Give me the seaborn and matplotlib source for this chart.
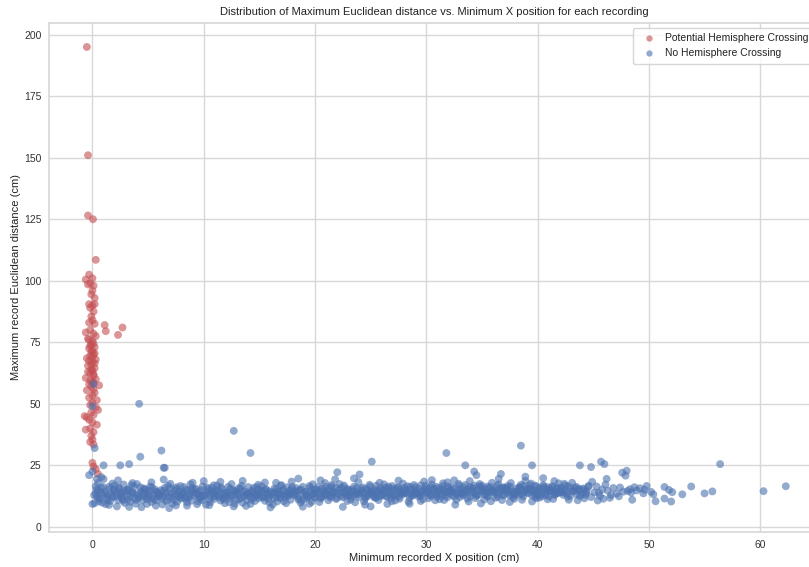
import matplotlib
matplotlib.use("Agg")
import matplotlib.pyplot as plt
import pandas as pd
import seaborn as sns

# Recordings flagged as potentially crossing the hemisphere midline: (min X, max distance)
crossing_pts = [
    (-0.5, 195.0), (-0.4, 151.0), (-0.4, 126.5), (0.05, 125.0), (0.3, 108.5),
    (-0.6, 100.5), (-0.3, 102.5), (0.0, 101.0), (-0.2, 99.0), (0.1, 98.0),
    (-0.4, 98.5), (0.0, 96.0), (-0.1, 94.5), (0.2, 93.0), (-0.3, 90.5),
    (0.0, 90.0), (0.2, 90.5), (-0.2, 89.0), (0.1, 87.5), (-0.1, 85.5),
    (0.0, 84.0), (-0.3, 83.0), (0.2, 82.5), (1.1, 82.0), (1.2, 79.5),
    (2.3, 78.0), (2.7, 81.0), (-0.6, 79.0), (-0.2, 80.0), (0.1, 78.5),
    (0.3, 77.5), (-0.4, 76.5), (0.0, 75.5), (-0.1, 74.0), (0.2, 73.0),
    (-0.3, 72.5), (0.0, 71.5), (0.1, 70.0), (-0.2, 69.5), (-0.5, 68.5),
    (0.3, 68.0), (0.0, 67.0), (-0.1, 66.0), (-0.4, 65.5), (0.2, 64.5),
    (0.0, 63.5), (-0.2, 62.5), (0.1, 61.5), (-0.6, 60.5), (0.3, 60.0),
    (0.0, 59.0), (-0.3, 58.0), (0.6, 57.5), (-0.1, 57.0), (0.1, 56.0),
    (-0.5, 55.5), (0.2, 54.5), (0.0, 53.5), (-0.3, 52.5), (0.4, 51.5),
    (0.0, 50.5), (-0.2, 49.5), (0.3, 48.5), (-0.7, 45.0), (-0.5, 44.5),
    (0.5, 47.5), (-0.1, 46.5), (0.1, 45.5), (-0.3, 43.5), (0.4, 41.5),
    (0.0, 42.5), (-0.2, 40.0), (-0.6, 39.5), (0.1, 38.5), (-0.1, 37.0),
    (0.0, 35.5), (-0.2, 34.5), (0.1, 33.5), (0.0, 26.0), (0.1, 24.5),
    (0.3, 23.5), (0.5, 21.5), (-0.4, 63.0), (0.2, 66.5), (-0.1, 71.0),
    (0.1, 74.5), (-0.3, 76.0), (0.2, 70.5), (-0.2, 59.5), (0.1, 58.5),
    (-0.3, 67.5), (0.0, 69.0), (-0.2, 73.5), (0.1, 62.0), (-0.1, 64.0),
]

# Recordings that stay within one hemisphere: (min X, max distance)
no_crossing_pts = [
    (0.1, 58.0), (0.0, 49.0), (0.2, 32.0), (-0.3, 21.0), (0.0, 22.5), (0.4, 19.5),
    (0.8, 20.2), (0.0, 9.3),
    (0.3, 16.5), (0.4, 12.2), (0.5, 14.8), (0.6, 10.3), (0.3, 13.6), (0.8, 15.9),
    (0.7, 11.4), (0.9, 13.1), (0.2, 9.6), (0.5, 17.8), (0.9, 9.8),
    (1.1, 14.2), (1.3, 11.8), (1.5, 16.3), (1.2, 9.2), (1.7, 13.4), (1.9, 15.1),
    (1.4, 12.7), (1.6, 10.5), (1.8, 17.6), (1.0, 19.4), (1.5, 8.9), (1.9, 12.3),
    (2.1, 13.8), (2.3, 10.9), (2.4, 15.7), (2.6, 12.1), (2.8, 17.2), (2.2, 8.3),
    (2.5, 14.4), (2.7, 11.3), (2.9, 9.7), (2.0, 16.8), (2.6, 13.2), (2.3, 18.9),
    (3.1, 12.6), (3.2, 15.3), (3.4, 10.2), (3.6, 14.1), (3.8, 11.7), (3.3, 8.1),
    (3.5, 16.9), (3.7, 13.5), (3.9, 9.4), (3.0, 14.8), (3.6, 17.8), (3.2, 11.1),
    (4.1, 13.3), (4.3, 16.1), (4.5, 10.8), (4.2, 12.4), (4.7, 14.9), (4.9, 9.3),
    (4.4, 8.0), (4.6, 15.6), (4.8, 12.0), (4.0, 17.4), (4.5, 13.9), (4.9, 11.2),
    (5.1, 14.6), (5.3, 10.1), (5.5, 12.9), (5.2, 16.4), (5.7, 8.6), (5.9, 13.7),
    (5.4, 11.5), (5.6, 15.2), (5.8, 10.7), (5.0, 12.3), (5.3, 18.1), (5.8, 14.3),
    (6.1, 12.8), (6.3, 9.1), (6.5, 15.8), (6.2, 11.6), (6.7, 13.9), (6.9, 7.6),
    (6.4, 14.7), (6.6, 10.4), (6.8, 16.7), (6.0, 13.1), (6.4, 19.2), (6.9, 12.2),
    (7.1, 13.6), (7.3, 11.0), (7.5, 15.4), (7.2, 9.5), (7.7, 12.5), (7.9, 16.6),
    (7.4, 13.0), (7.6, 10.2), (7.8, 14.4), (7.0, 17.5), (7.5, 8.7), (7.9, 11.9),
    (8.1, 14.0), (8.3, 12.1), (8.5, 9.9), (8.2, 16.2), (8.7, 13.4), (8.9, 10.6),
    (8.4, 15.1), (8.6, 11.8), (8.8, 17.3), (8.0, 12.9), (8.5, 8.6), (8.9, 14.8),
    (9.1, 12.7), (9.3, 15.5), (9.5, 10.3), (9.2, 13.8), (9.7, 11.4), (9.9, 16.4),
    (9.4, 9.2), (9.6, 14.2), (9.8, 12.3), (9.0, 17.9), (9.5, 13.3), (9.9, 10.8),
    (10.1, 13.1), (10.3, 16.0), (10.5, 11.2), (10.2, 9.0), (10.7, 14.6), (10.9, 12.4),
    (10.4, 15.3), (10.6, 10.1), (10.8, 13.7), (10.0, 18.6), (10.5, 8.8), (10.9, 16.9),
    (11.1, 12.5), (11.3, 14.9), (11.5, 10.7), (11.2, 16.8), (11.7, 13.2), (11.9, 9.6),
    (11.4, 12.0), (11.6, 15.7), (11.8, 11.1), (11.0, 14.3), (11.5, 18.3), (11.9, 13.6),
    (12.1, 14.1), (12.3, 10.0), (12.5, 12.8), (12.2, 16.3), (12.7, 8.3), (12.9, 13.5),
    (12.4, 11.5), (12.6, 15.0), (12.8, 9.4), (12.0, 12.2), (12.5, 17.4), (12.9, 14.7),
    (13.1, 12.9), (13.3, 15.6), (13.5, 9.8), (13.2, 11.3), (13.7, 14.5), (13.9, 10.9),
    (13.4, 16.7), (13.6, 12.6), (13.8, 8.5), (13.0, 14.0), (13.5, 18.7), (13.9, 13.3),
    (14.1, 13.7), (14.3, 11.0), (14.5, 15.9), (14.2, 9.3), (14.7, 12.7), (14.9, 17.1),
    (14.4, 14.2), (14.6, 10.5), (14.8, 13.1), (14.0, 16.2), (14.5, 11.9), (14.9, 15.0),
    (15.1, 12.3), (15.3, 14.8), (15.5, 10.6), (15.2, 16.5), (15.7, 13.0), (15.9, 9.9),
    (15.4, 12.1), (15.6, 15.3), (15.8, 11.4), (15.0, 13.8), (15.5, 18.0), (15.9, 14.4),
    (16.1, 13.9), (16.3, 11.7), (16.5, 15.2), (16.2, 9.1), (16.7, 12.9), (16.9, 16.8),
    (16.4, 14.1), (16.6, 10.3), (16.8, 13.5), (16.0, 7.9), (16.5, 17.9), (16.9, 11.6),
    (17.1, 14.5), (17.3, 12.2), (17.5, 16.1), (17.2, 10.4), (17.7, 13.6), (17.9, 15.4),
    (17.4, 9.6), (17.6, 12.8), (17.8, 11.0), (17.0, 16.9), (17.5, 14.0), (17.9, 18.4),
    (18.1, 13.2), (18.3, 15.8), (18.5, 11.1), (18.2, 14.3), (18.7, 9.8), (18.9, 16.3),
    (18.4, 12.6), (18.6, 14.9), (18.8, 10.7), (18.0, 13.7), (18.5, 19.6), (18.9, 8.2),
    (19.1, 14.2), (19.3, 11.8), (19.5, 16.6), (19.2, 13.0), (19.7, 10.2), (19.9, 15.1),
    (19.4, 12.4), (19.6, 14.6), (19.8, 17.3), (19.0, 11.3), (19.5, 9.4), (19.9, 13.5),
    (20.1, 13.6), (20.3, 16.2), (20.5, 11.5), (20.2, 14.8), (20.7, 12.3), (20.9, 17.8),
    (20.4, 10.1), (20.6, 15.5), (20.8, 13.1), (20.0, 12.0), (20.5, 18.9), (20.9, 14.3),
    (21.1, 14.9), (21.3, 12.5), (21.5, 17.0), (21.2, 10.8), (21.7, 13.8), (21.9, 15.9),
    (21.4, 11.9), (21.6, 14.4), (21.8, 19.3), (21.0, 13.2), (21.5, 16.4), (21.9, 11.3),
    (22.1, 13.4), (22.3, 15.7), (22.5, 12.0), (22.2, 17.4), (22.7, 14.1), (22.9, 10.5),
    (22.4, 13.9), (22.6, 16.8), (22.8, 12.7), (22.0, 22.2), (22.5, 8.1), (22.9, 15.2),
    (23.1, 14.6), (23.3, 12.2), (23.5, 16.3), (23.2, 11.0), (23.7, 13.5), (23.9, 18.2),
    (23.4, 15.1), (23.6, 10.0), (23.8, 14.0), (23.0, 12.8), (23.5, 19.7), (23.9, 13.1),
    (24.1, 13.9), (24.3, 16.0), (24.5, 11.6), (24.2, 14.7), (24.7, 12.4), (24.9, 17.1),
    (24.4, 10.3), (24.6, 15.4), (24.8, 13.3), (24.0, 21.3), (24.5, 9.0), (24.9, 14.2),
    (25.1, 14.4), (25.3, 12.1), (25.5, 16.7), (25.2, 13.0), (25.7, 10.9), (25.9, 15.6),
    (25.4, 11.8), (25.6, 14.8), (25.8, 17.9), (25.0, 8.3), (25.5, 13.7), (25.9, 12.6),
    (26.1, 13.3), (26.3, 15.9), (26.5, 12.2), (26.2, 17.3), (26.7, 14.3), (26.9, 10.4),
    (26.4, 13.9), (26.6, 16.4), (26.8, 11.7), (26.0, 14.9), (26.5, 9.3), (26.9, 15.5),
    (27.1, 14.8), (27.3, 12.6), (27.5, 16.0), (27.2, 10.7), (27.7, 13.6), (27.9, 17.6),
    (27.4, 15.2), (27.6, 11.4), (27.8, 14.1), (27.0, 12.9), (27.5, 18.8), (27.9, 13.2),
    (28.1, 13.8), (28.3, 16.5), (28.5, 11.9), (28.2, 14.6), (28.7, 12.8), (28.9, 17.0),
    (28.4, 10.2), (28.6, 15.3), (28.8, 13.4), (28.0, 15.8), (28.5, 9.4), (28.9, 14.9),
    (29.1, 14.5), (29.3, 12.3), (29.5, 16.9), (29.2, 13.5), (29.7, 11.2), (29.9, 15.7),
    (29.4, 12.7), (29.6, 14.2), (29.8, 18.4), (29.0, 16.1), (29.5, 10.5), (29.9, 13.9),
    (30.1, 15.1), (30.3, 13.0), (30.5, 17.2), (30.2, 11.6), (30.7, 14.4), (30.9, 16.3),
    (30.4, 12.5), (30.6, 15.6), (30.8, 10.8), (30.0, 14.0), (30.5, 19.0), (30.9, 13.4),
    (31.1, 14.7), (31.3, 12.4), (31.5, 16.6), (31.2, 11.2), (31.7, 13.9), (31.9, 18.1),
    (31.4, 15.3), (31.6, 10.9), (31.8, 14.3), (31.0, 13.1), (31.5, 17.7), (31.9, 12.0),
    (32.1, 13.6), (32.3, 16.1), (32.5, 12.3), (32.2, 15.0), (32.7, 11.0), (32.9, 17.5),
    (32.4, 14.2), (32.6, 9.0), (32.8, 13.3), (32.0, 15.7), (32.5, 18.9), (32.9, 14.6),
    (33.1, 15.4), (33.3, 12.8), (33.5, 17.0), (33.2, 14.0), (33.7, 11.5), (33.9, 16.2),
    (33.4, 13.2), (33.6, 15.0), (33.8, 10.3), (33.0, 12.1), (33.5, 14.5), (33.9, 18.6),
    (34.1, 14.3), (34.3, 16.8), (34.5, 12.6), (34.2, 15.4), (34.7, 13.1), (34.9, 9.5),
    (34.4, 11.7), (34.6, 14.9), (34.8, 17.4), (34.0, 13.8), (34.5, 21.0), (34.9, 15.9),
    (35.1, 14.9), (35.3, 12.9), (35.5, 16.4), (35.2, 11.1), (35.7, 14.1), (35.9, 17.9),
    (35.4, 13.6), (35.6, 15.6), (35.8, 10.4), (35.0, 16.7), (35.5, 12.3), (35.9, 14.6),
    (36.1, 15.2), (36.3, 13.4), (36.5, 17.3), (36.2, 11.8), (36.7, 14.7), (36.9, 16.0),
    (36.4, 12.2), (36.6, 15.8), (36.8, 10.9), (36.0, 14.2), (36.5, 19.5), (36.9, 13.0),
    (37.1, 14.4), (37.3, 16.6), (37.5, 12.7), (37.2, 15.5), (37.7, 13.3), (37.9, 11.4),
    (37.4, 14.8), (37.6, 17.8), (37.8, 12.0), (37.0, 15.9), (37.5, 10.1), (37.9, 14.1),
    (38.1, 15.6), (38.3, 13.1), (38.5, 17.1), (38.2, 14.5), (38.7, 12.4), (38.9, 18.7),
    (38.4, 16.2), (38.6, 11.0), (38.8, 14.0), (38.0, 13.5), (38.5, 15.2), (38.9, 20.4),
    (39.1, 14.2), (39.3, 16.9), (39.5, 12.8), (39.2, 15.7), (39.7, 13.7), (39.9, 11.6),
    (39.4, 17.6), (39.6, 14.9), (39.8, 12.1), (39.0, 15.3), (39.5, 10.3), (39.9, 16.4),
    (40.1, 15.0), (40.3, 13.2), (40.5, 17.0), (40.2, 11.9), (40.7, 14.6), (40.9, 16.1),
    (40.4, 12.5), (40.6, 15.8), (40.8, 13.9), (40.0, 14.3), (40.5, 19.8), (40.9, 11.2),
    (41.1, 14.7), (41.3, 16.5), (41.5, 12.9), (41.2, 15.4), (41.7, 13.5), (41.9, 17.7),
    (41.4, 11.3), (41.6, 14.2), (41.8, 15.9), (41.0, 12.4), (41.5, 18.6), (41.9, 13.8),
    (42.1, 15.3), (42.3, 13.0), (42.5, 16.8), (42.2, 14.1), (42.7, 12.2), (42.9, 15.7),
    (42.4, 17.5), (42.6, 13.6), (42.8, 11.0), (42.0, 14.8),
    (43.2, 14.4), (43.5, 16.2), (43.8, 12.5), (43.4, 15.0), (43.9, 13.3), (43.1, 17.9),
    (43.6, 10.8), (43.7, 14.9),
    (44.1, 15.6), (44.3, 13.0), (44.6, 16.7), (44.8, 12.1), (44.4, 14.5), (44.9, 18.3),
    (44.2, 11.6),
    (45.1, 14.0), (45.3, 16.4), (45.6, 12.6), (45.4, 10.7), (45.8, 15.2), (45.9, 11.4),
    (45.5, 13.8),
    (46.1, 17.2), (46.3, 14.7), (46.6, 12.9), (46.2, 19.5), (46.8, 15.8), (46.5, 11.8),
    (47.1, 13.5), (47.4, 16.0), (47.7, 14.3), (47.9, 20.8), (47.3, 12.4),
    (48.1, 14.6), (48.3, 15.3), (48.5, 11.0), (48.7, 16.1), (48.4, 13.9), (48.9, 14.8),
    (49.2, 15.7), (49.5, 13.6), (49.8, 16.6), (49.6, 15.1),
    (50.2, 14.2), (50.4, 13.2), (50.6, 10.4),
    (51.4, 16.2), (51.4, 11.5), (51.8, 15.0), (52.1, 14.1), (52.0, 10.3), (53.0, 13.2),
    (53.8, 16.4), (55.0, 13.6), (55.7, 14.4), (60.3, 14.5), (62.3, 16.5),
    # isolated high values
    (4.2, 50.0), (12.7, 39.0), (14.2, 30.0), (6.2, 31.0), (4.3, 28.5), (2.5, 25.0),
    (3.3, 25.5), (6.4, 24.0), (6.5, 24.0), (1.0, 25.0), (38.5, 33.0), (31.8, 30.0),
    (25.1, 26.5), (33.5, 25.0), (39.5, 25.0), (43.8, 25.0), (45.7, 26.5), (46.0, 25.5),
    (56.4, 25.5), (34.3, 22.5), (36.7, 21.5), (44.8, 24.3), (47.6, 22.0), (48.0, 22.8),
]

# Additional recordings in the dense core of the band (min X, max distance)
no_crossing_core = [
    (0.15, 12.9), (0.35, 15.1), (0.55, 11.6), (0.75, 14.0), (0.95, 16.2),
    (1.15, 13.5), (1.35, 10.8), (1.55, 15.4), (1.75, 12.0), (1.95, 14.6),
    (2.15, 12.4), (2.35, 15.9), (2.55, 13.1), (2.75, 10.6), (2.95, 14.2),
    (3.15, 15.0), (3.35, 12.2), (3.55, 13.8), (3.75, 16.3), (3.95, 10.9),
    (4.15, 11.8), (4.35, 14.4), (4.55, 12.7), (4.75, 15.3), (4.95, 13.6),
    (5.15, 13.2), (5.35, 16.0), (5.55, 11.1), (5.75, 14.1), (5.95, 12.6),
    (6.15, 14.9), (6.35, 12.3), (6.55, 13.5), (6.75, 10.8), (6.95, 15.7),
    (7.15, 12.1), (7.35, 14.7), (7.55, 16.1), (7.75, 13.3), (7.95, 11.5),
    (8.15, 13.9), (8.35, 11.3), (8.55, 14.6), (8.75, 12.5), (8.95, 15.8),
    (9.15, 15.2), (9.35, 13.4), (9.55, 11.9), (9.75, 14.9), (9.95, 12.8),
    (10.15, 12.6), (10.35, 14.2), (10.55, 13.0), (10.75, 15.9), (10.95, 11.4),
    (11.15, 14.4), (11.35, 12.9), (11.55, 16.0), (11.75, 11.7), (11.95, 13.8),
    (12.15, 13.1), (12.35, 15.5), (12.55, 12.4), (12.75, 14.3), (12.95, 10.9),
    (13.15, 15.7), (13.35, 11.8), (13.55, 14.1), (13.75, 12.7), (13.95, 13.5),
    (14.15, 12.2), (14.35, 14.8), (14.55, 13.3), (14.75, 16.1), (14.95, 11.6),
    (15.15, 14.6), (15.35, 12.0), (15.55, 15.1), (15.75, 13.7), (15.95, 12.9),
    (16.15, 13.0), (16.35, 15.6), (16.55, 11.9), (16.75, 14.4), (16.95, 12.3),
    (17.15, 15.3), (17.35, 13.1), (17.55, 12.5), (17.75, 14.7), (17.95, 16.2),
    (18.15, 12.9), (18.35, 14.5), (18.55, 11.7), (18.75, 15.2), (18.95, 13.6),
    (19.15, 14.0), (19.35, 12.6), (19.55, 15.9), (19.75, 13.2), (19.95, 11.9),
    (20.15, 15.1), (20.35, 13.8), (20.55, 12.1), (20.75, 14.6), (20.95, 16.3),
    (21.15, 13.4), (21.35, 15.7), (21.55, 12.8), (21.75, 14.1), (21.95, 11.8),
    (22.15, 14.9), (22.35, 12.5), (22.55, 16.1), (22.75, 13.7), (22.95, 15.3),
    (23.15, 12.7), (23.35, 14.3), (23.55, 13.0), (23.75, 15.8), (23.95, 12.1),
    (24.15, 15.5), (24.35, 13.6), (24.55, 12.3), (24.75, 14.8), (24.95, 16.4),
    (25.15, 13.9), (25.35, 15.2), (25.55, 11.9), (25.75, 14.4), (25.95, 12.8),
    (26.15, 14.6), (26.35, 12.4), (26.55, 15.7), (26.75, 13.1), (26.95, 16.6),
    (27.15, 13.3), (27.35, 15.9), (27.55, 12.2), (27.75, 14.7), (27.95, 13.8),
    (28.15, 15.0), (28.35, 13.5), (28.55, 16.3), (28.75, 12.6), (28.95, 14.1),
    (29.15, 13.7), (29.35, 15.5), (29.55, 12.9), (29.75, 14.8), (29.95, 16.7),
    (30.15, 14.2), (30.35, 16.0), (30.55, 13.2), (30.75, 15.4), (30.95, 12.3),
    (31.15, 15.8), (31.35, 13.6), (31.55, 14.9), (31.75, 12.7), (31.95, 16.4),
    (32.15, 14.4), (32.35, 12.9), (32.55, 15.6), (32.75, 13.8), (32.95, 16.8),
    (33.15, 13.5), (33.35, 16.1), (33.55, 14.2), (33.75, 15.3), (33.95, 12.4),
    (34.15, 15.9), (34.35, 14.0), (34.55, 13.1), (34.75, 16.5), (34.95, 14.7),
    (35.15, 13.9), (35.35, 15.4), (35.55, 12.6), (35.75, 16.2), (35.95, 14.8),
    (36.15, 14.3), (36.35, 16.7), (36.55, 13.5), (36.75, 15.1), (36.95, 12.8),
    (37.15, 15.6), (37.35, 13.8), (37.55, 16.3), (37.75, 14.5), (37.95, 13.0),
    (38.15, 14.1), (38.35, 15.9), (38.55, 13.3), (38.75, 16.6), (38.95, 15.0),
    (39.15, 13.6), (39.35, 15.2), (39.55, 14.4), (39.75, 16.8), (39.95, 13.1),
    (40.15, 15.7), (40.35, 14.0), (40.55, 16.4), (40.75, 12.9), (40.95, 15.1),
    (41.15, 14.6), (41.35, 16.1), (41.55, 13.4), (41.75, 15.5), (41.95, 14.2),
    (42.15, 15.9), (42.35, 13.9), (42.55, 14.8), (42.75, 16.5), (42.95, 12.7),
    (43.15, 14.5), (43.35, 16.0), (43.55, 13.2), (43.75, 15.4),
    (44.15, 15.1), (44.35, 13.8), (44.55, 16.3),
]

labels = ["Potential Hemisphere Crossing", "No Hemisphere Crossing"]
palette = {"Potential Hemisphere Crossing": "#c44e52", "No Hemisphere Crossing": "#4c72b0"}

rows = [(x, y, labels[0]) for x, y in crossing_pts] + \
       [(x, y, labels[1]) for x, y in no_crossing_pts + no_crossing_core]
df = pd.DataFrame(rows, columns=["min_x", "max_dist", "group"])

sns.set_theme(style="whitegrid", rc={"grid.color": "#d8d8d8", "axes.edgecolor": "#d8d8d8"})
plt.rcParams["font.family"] = ["Liberation Sans", "DejaVu Sans"]

fig = plt.figure(figsize=(8.09, 5.67), dpi=100)
ax = fig.add_axes([0.0606, 0.0617, 0.952, 0.898])

sns.scatterplot(data=df, x="min_x", y="max_dist", hue="group", hue_order=labels,
                palette=palette, alpha=0.6, s=32, linewidth=0, ax=ax)

ax.set_xlim(-3.9, 65.3)
ax.set_ylim(-2.1, 204.8)
ax.set_xticks([0, 10, 20, 30, 40, 50, 60])
ax.set_yticks([0, 25, 50, 75, 100, 125, 150, 175, 200])
ax.tick_params(axis="both", length=0, labelsize=7.5, colors="#333333")
ax.tick_params(axis="x", pad=6)
ax.tick_params(axis="y", pad=5.5)

ax.set_title("Distribution of Maximum Euclidean distance vs. Minimum X position for each recording",
             fontsize=8, color="#222222", pad=6)
ax.set_xlabel("Minimum recorded X position (cm)", fontsize=8, color="#222222", labelpad=2)
ax.set_ylabel("Maximum record Euclidean distance (cm)", fontsize=8, color="#222222", labelpad=2)

leg = ax.legend(loc="upper right", fontsize=7.5, frameon=True, markerscale=0.8,
                borderpad=0.5, handletextpad=0.6)
for txt in leg.get_texts():
    txt.set_color("#222222")

fig.savefig("out.png", dpi=100)
